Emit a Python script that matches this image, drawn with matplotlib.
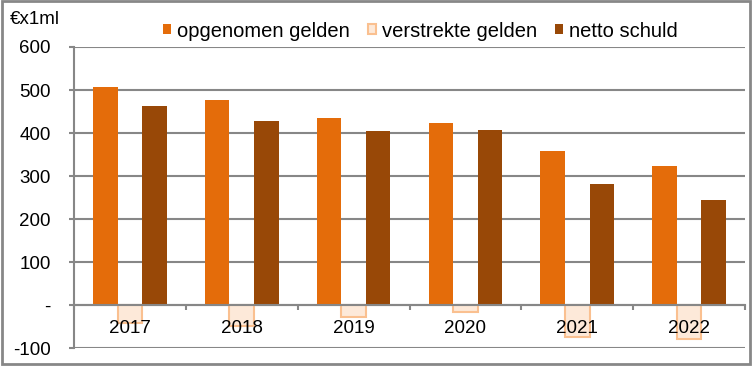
import matplotlib.pyplot as plt
import numpy as np
from matplotlib.patches import Rectangle

plt.rcParams['font.family'] = ['Liberation Sans', 'DejaVu Sans']

years = ['2017', '2018', '2019', '2020', '2021', '2022']
opgenomen = [507, 477, 435, 423, 358, 323]
verstrekt = [-42, -49, -28, -16, -74, -79]
netto = [463, 428, 405, 407, 281, 244]
yticks = [-100, 0, 100, 200, 300, 400, 500, 600]
ylabels = ['-100', '-', '100', '200', '300', '400', '500', '600']

fig = plt.figure(figsize=(7.52, 3.66), dpi=100)
ax = fig.add_axes([0.0984, 0.049, 0.8923, 0.8226])

x = np.arange(len(years))
w = 0.22
ax.bar(x - w, opgenomen, w, color='#E46C0A', label='opgenomen gelden', zorder=1)
ax.bar(x, verstrekt, w, color='#FDE9D9', edgecolor='#FAC090', linewidth=1.5,
       label='verstrekte gelden', zorder=1)
ax.bar(x + w, netto, w, color='#984807', label='netto schuld', zorder=1)

gray = '#878787'
ax.set_ylim(-100, 600)
ax.set_xlim(-0.5, len(years) - 0.5)
ax.set_yticks(yticks)
ax.set_yticklabels(ylabels, fontsize=13.5)
ax.yaxis.grid(True, color=gray, linewidth=1.5)
ax.tick_params(axis='y', length=3.6, width=1.5, color=gray, pad=13)

ax.spines['bottom'].set_position(('data', 0))
ax.spines['bottom'].set_color(gray)
ax.spines['bottom'].set_linewidth(1.5)
ax.spines['left'].set_color(gray)
ax.spines['left'].set_linewidth(1.5)
ax.spines['top'].set_visible(False)
ax.spines['right'].set_visible(False)

ax.set_xticks(x)
ax.set_xticklabels(years, fontsize=13.5)
ax.set_xticks(np.arange(-0.5, len(years)), minor=True)
ax.tick_params(axis='x', which='major', length=0, pad=11)
ax.tick_params(axis='x', which='minor', length=3.6, width=1.5, color=gray)

# grid behind bars, category labels in front of them
ax.yaxis.set_zorder(0.5)
ax.xaxis.set_zorder(5)
ax.spines['bottom'].set_zorder(4)

fig.text(10 / 752, 1 - 20 / 366, '€x1ml', fontsize=13.5, ha='left', va='center')
fig.legend(loc='center left', bbox_to_anchor=(163 / 752, 0.915), ncol=3, frameon=False,
           fontsize=14.5, handlelength=0.4, handleheight=0.4, handletextpad=0.3,
           columnspacing=0.9, borderaxespad=0, borderpad=0)

fig.patches.append(Rectangle((0.002, 0.005), 0.996, 0.993, transform=fig.transFigure,
                             fill=False, edgecolor=gray, linewidth=2))

fig.savefig('out.png', dpi=100)
